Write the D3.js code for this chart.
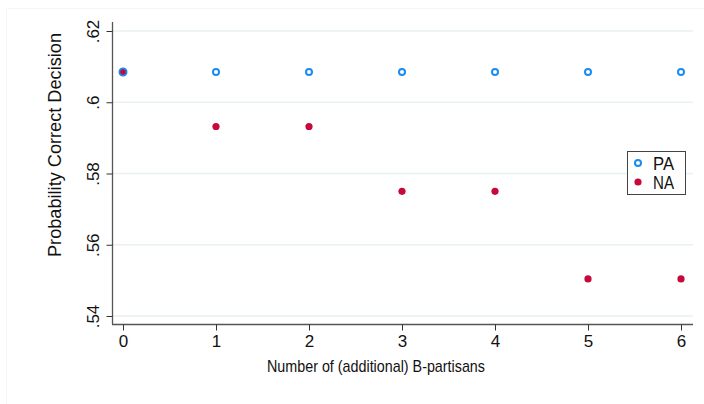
<!DOCTYPE html>
<html>
<head>
<meta charset="utf-8">
<script src="https://cdn.jsdelivr.net/npm/d3@7"></script>
<style>
  body { margin: 0; background: #fff; }
  svg { font-family: "Liberation Sans", Arial, sans-serif; }
</style>
</head>
<body>
<div id="chart"></div>
<script>
var xCats = [0, 1, 2, 3, 4, 5, 6];
var paValues = [0.6085, 0.6085, 0.6085, 0.6085, 0.6085, 0.6085, 0.6085];
var naValues = [0.6085, 0.5932, 0.5932, 0.5750, 0.5750, 0.5504, 0.5504];
var yTicks = [0.54, 0.56, 0.58, 0.60, 0.62];
var yTickLabels = [".54", ".56", ".58", ".6", ".62"];
var seriesNames = ["PA", "NA"];

var width = 704, height = 404;

var svg = d3.select("#chart").append("svg")
  .attr("width", width)
  .attr("height", height);

// faint outer frame
svg.append("rect")
  .attr("x", 6.5).attr("y", 8.5)
  .attr("width", 700).attr("height", 400)
  .style("fill", "none")
  .style("stroke", "#f3f5f6");

var x = d3.scaleLinear().domain([0, 6]).range([123, 681]);
var y = d3.scaleLinear().domain([0.54, 0.62]).range([316, 31]);

// gridlines
svg.append("g").selectAll("line")
  .data(yTicks)
  .enter().append("line")
  .attr("x1", 112).attr("x2", 693)
  .attr("y1", function(d) { return y(d); })
  .attr("y2", function(d) { return y(d); })
  .style("stroke", "#e9f0f3")
  .style("stroke-width", 1.5);

// y axis
var yAxis = svg.append("g")
  .attr("transform", "translate(112.5,0)")
  .call(d3.axisLeft(y).tickValues(yTicks)
    .tickFormat(function(d, i) { return yTickLabels[i]; })
    .tickSize(6).tickSizeOuter(0));
yAxis.select(".domain").attr("d", "M0,22V324").style("stroke", "#555").style("stroke-width", 1.3);
yAxis.selectAll(".tick line").style("stroke", "#333");
yAxis.selectAll(".tick text")
  .attr("x", 0).attr("y", 0).attr("dy", 0)
  .attr("transform", "translate(-14,0) rotate(-90)")
  .style("text-anchor", "middle")
  .style("font-size", "17px")
  .style("fill", "#111")
  .style("font-family", "'Liberation Sans', Arial, sans-serif");

// x axis
var xAxis = svg.append("g")
  .attr("transform", "translate(0,324.5)")
  .call(d3.axisBottom(x).tickValues(xCats).tickFormat(d3.format("d"))
    .tickSize(6).tickSizeOuter(0));
xAxis.select(".domain").attr("d", "M112,0H693").style("stroke", "#555").style("stroke-width", 1.3);
xAxis.selectAll(".tick line").style("stroke", "#333");
xAxis.selectAll(".tick text")
  .attr("y", 10)
  .style("font-size", "17px")
  .style("fill", "#111")
  .style("font-family", "'Liberation Sans', Arial, sans-serif");

// axis titles
svg.append("text")
  .attr("x", 376).attr("y", 372)
  .attr("text-anchor", "middle")
  .attr("textLength", 218)
  .attr("lengthAdjust", "spacingAndGlyphs")
  .style("font-size", "17px")
  .style("fill", "#111")
  .text("Number of (additional) B-partisans");

svg.append("text")
  .attr("transform", "translate(61,145) rotate(-90)")
  .attr("text-anchor", "middle")
  .attr("textLength", 224)
  .attr("lengthAdjust", "spacingAndGlyphs")
  .style("font-size", "17.5px")
  .style("fill", "#111")
  .text("Probability Correct Decision");

// points
svg.append("g").selectAll("circle")
  .data(xCats)
  .enter().append("circle")
  .attr("cx", function(d) { return x(d); })
  .attr("cy", function(d, i) { return y(paValues[i]); })
  .attr("r", 3)
  .style("fill", "#fff")
  .style("stroke", "#1a8cf0")
  .style("stroke-width", 2);

svg.append("g").selectAll("circle")
  .data(xCats)
  .enter().append("circle")
  .attr("cx", function(d) { return x(d); })
  .attr("cy", function(d, i) { return y(naValues[i]); })
  .attr("r", 3.6)
  .style("fill", "#c8083a");

// the first PA point is drawn over NA at 0
svg.append("circle")
  .attr("cx", x(xCats[0])).attr("cy", y(paValues[0]))
  .attr("r", 3.6)
  .style("fill", "none")
  .style("stroke", "#1a8cf0")
  .style("stroke-width", 1.8);

// legend
var legend = svg.append("g").attr("transform", "translate(627,151)");
legend.append("rect")
  .attr("x", 0.5).attr("y", 0.5)
  .attr("width", 58).attr("height", 43)
  .style("fill", "#fff")
  .style("stroke", "#444");
legend.append("circle")
  .attr("cx", 11).attr("cy", 12).attr("r", 3)
  .style("fill", "#fff").style("stroke", "#1a8cf0").style("stroke-width", 2);
legend.append("circle")
  .attr("cx", 11).attr("cy", 31).attr("r", 3.6)
  .style("fill", "#c8083a");
legend.selectAll("text")
  .data(seriesNames)
  .enter().append("text")
  .attr("x", 26)
  .attr("y", function(d, i) { return 19 + i * 19; })
  .attr("textLength", 21)
  .attr("lengthAdjust", "spacingAndGlyphs")
  .style("font-size", "18px")
  .style("fill", "#111")
  .text(function(d) { return d; });
</script>
</body>
</html>
